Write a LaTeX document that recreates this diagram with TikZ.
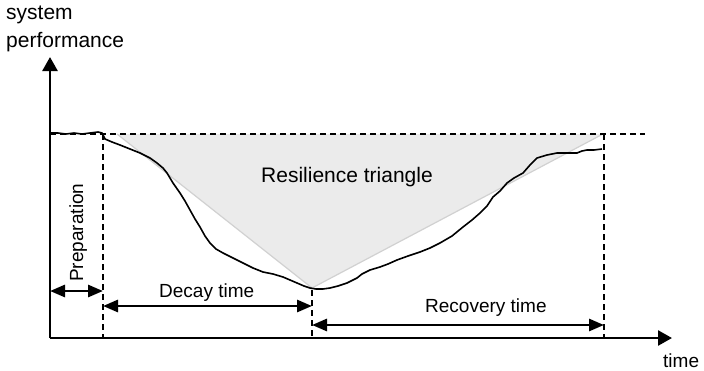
\documentclass[tikz,border=0pt]{standalone}
\usepackage{fontspec}
\setmainfont{Liberation Sans}
\usetikzlibrary{arrows.meta}
\begin{document}
\begin{tikzpicture}[x=1pt,y=-1pt,
  axis/.style={line width=2.6pt,-{Triangle[length=14pt,width=15pt]}},
  dim/.style={line width=2.8pt,{Triangle[length=15pt,width=12pt]}-{Triangle[length=15pt,width=12pt]}},
  guide/.style={line width=1.5pt,dash pattern=on 6pt off 4pt},
  curve/.style={line width=1.6pt,line join=round},
  lbl/.style={inner sep=0pt,font=\fontsize{19}{23}\selectfont},
  biglbl/.style={inner sep=0pt,font=\fontsize{21}{25}\selectfont}]
\useasboundingbox (0,0) rectangle (704,370);
% key points
\coordinate (O) at (50,338);
\coordinate (ytip) at (50,57);
\coordinate (xtip) at (672,338);
\coordinate (L0) at (50,134);
\coordinate (Lend) at (645,134);
\coordinate (TA) at (117,134);
\coordinate (TB) at (312,288);
\coordinate (TC) at (603,134);
\coordinate (p1top) at (103,134);
\coordinate (p1bot) at (103,338);
\coordinate (p2top) at (312,290);
\coordinate (p2bot) at (312,338);
\coordinate (p3top) at (604,134);
\coordinate (p3bot) at (604,338);
\coordinate (prepA) at (50,291);
\coordinate (prepB) at (103,291);
\coordinate (decA) at (103,306);
\coordinate (decB) at (312,306);
\coordinate (recA) at (312,325);
\coordinate (recB) at (604,325);
% triangle
\fill[black!8] (TA) -- (TB) -- (TC) -- cycle;
\draw[draw=black!18,line width=1.2pt] (TA) -- (TB) -- (TC);
% guides
\draw[guide] (L0) -- (Lend);
\draw[guide] (p1top) -- (p1bot);
\draw[guide] (p2top) -- (p2bot);
\draw[guide] (p3top) -- (p3bot);
% performance curve
\draw[curve] plot coordinates {(50,133) (58,133) (66,134) (74,133) (82,134) (90,133) (98,132) (102,133) (105,139) (112,142) (120,145) (130,149) (140,153) (150,158) (157,163) (163,168) (167,173) (173,183) (180,193) (185,201) (190,210) (195,219) (200,227) (205,236) (210,243) (216,249) (223,253) (233,258) (243,263) (253,268) (263,272) (273,274) (283,277) (290,280) (297,283) (304,286) (310,288) (316,289) (323,289) (330,288) (338,286) (347,283) (357,278) (362,274) (370,270) (380,267) (388,264) (397,260) (408,256) (420,252) (430,248) (440,243) (452,236) (463,227) (472,220) (480,213) (487,206) (493,197) (500,191) (507,183) (514,178) (523,173) (530,165) (537,158) (547,155) (557,153) (567,153) (577,153) (582,151) (587,150) (594,150) (602,149)};
% axes
\draw[axis] (O) -- (ytip);
\draw[axis] (O) -- (xtip);
% dimension arrows
\draw[dim] (prepA) -- (prepB);
\draw[dim] (decA) -- (decB);
\draw[dim] (recA) -- (recB);
% labels
\node[biglbl,anchor=base west] (ylab1) at (6,19) {system};
\node[biglbl,anchor=base west] (ylab2) at (6,47) {performance};
\node[lbl,anchor=base west] (xlab) at (663,367) {time};
\node[biglbl,anchor=base] (trilab) at (347,182) {Resilience triangle};
\node[lbl,anchor=base west] (declab) at (159,297) {Decay time};
\node[lbl,anchor=base west] (reclab) at (425,312) {Recovery time};
\node[lbl,anchor=base west,rotate=90] (preplab) at (83,282) {Preparation};
\end{tikzpicture}
\end{document}
